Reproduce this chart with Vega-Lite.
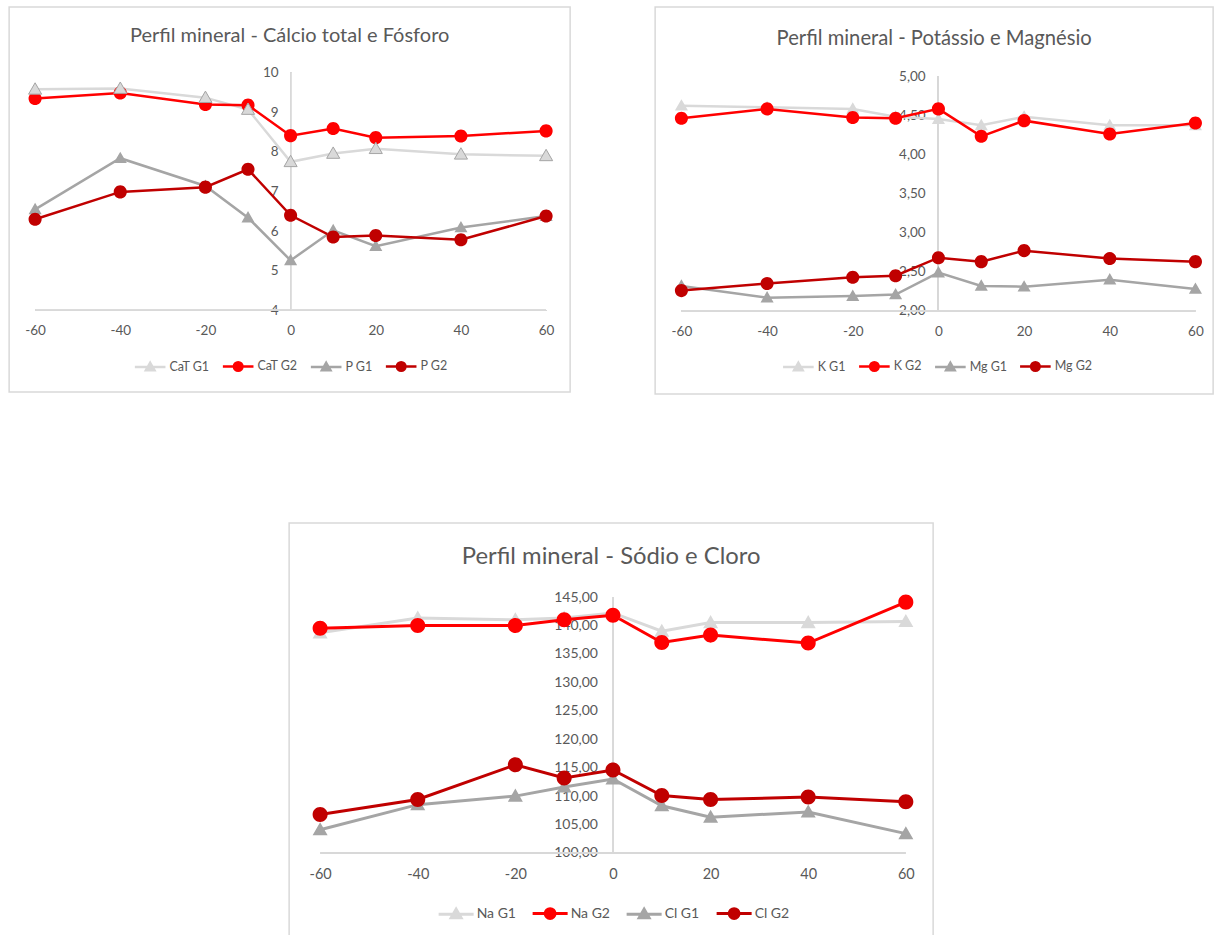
{
  "$schema": "https://vega.github.io/schema/vega-lite/v6.json",
  "background": "white",
  "padding": {"left": 8, "top": 6, "right": 0, "bottom": 0},
  "config": {
    "font": "Lato",
    "locale": {"number": {"decimal": ",", "thousands": ".", "grouping": [3], "currency": ["R$ ", ""], "minus": "-"}},
    "view": {"stroke": "#d9d9d9", "strokeWidth": 1.5},
    "axis": {"domain": false, "ticks": false, "tickSize": 0, "grid": false, "labelColor": "#595959", "labelFont": "Lato", "labelFontSize": 13.5, "title": null, "labelFlush": false, "labelOverlap": false},
    "title": {"font": "Lato", "fontWeight": "normal", "color": "#595959", "anchor": "middle"},
    "legend": {"title": null, "direction": "horizontal", "labelFont": "Lato", "labelColor": "#595959", "labelFontSize": 12.5, "symbolSize": 81, "labelOffset": 13, "columnPadding": 7, "gridAlign": "each", "padding": 0}
  },
  "resolve": {
    "scale": {"color": "independent", "stroke": "independent", "shape": "independent"},
    "legend": {"color": "independent", "stroke": "independent", "shape": "independent"}
  },
  "vconcat": [
    {
      "spacing": 83,
      "resolve": {
        "scale": {"color": "independent", "stroke": "independent", "shape": "independent"},
        "legend": {"color": "independent", "stroke": "independent", "shape": "independent"}
      },
      "hconcat": [
        {
          "width": 561,
          "height": 385,
          "title": {"text": "Perfil mineral - Cálcio total e Fósforo", "fontSize": 20, "offset": -39},
          "data": {"values": [
            {"serie": "CaT G1", "tempo": -60, "valor": 9.58}, {"serie": "CaT G1", "tempo": -40, "valor": 9.60}, {"serie": "CaT G1", "tempo": -20, "valor": 9.37}, {"serie": "CaT G1", "tempo": -10, "valor": 9.07}, {"serie": "CaT G1", "tempo": 0, "valor": 7.75}, {"serie": "CaT G1", "tempo": 10, "valor": 7.96}, {"serie": "CaT G1", "tempo": 20, "valor": 8.08}, {"serie": "CaT G1", "tempo": 40, "valor": 7.94}, {"serie": "CaT G1", "tempo": 60, "valor": 7.90},
            {"serie": "CaT G2", "tempo": -60, "valor": 9.35}, {"serie": "CaT G2", "tempo": -40, "valor": 9.49}, {"serie": "CaT G2", "tempo": -20, "valor": 9.20}, {"serie": "CaT G2", "tempo": -10, "valor": 9.18}, {"serie": "CaT G2", "tempo": 0, "valor": 8.41}, {"serie": "CaT G2", "tempo": 10, "valor": 8.59}, {"serie": "CaT G2", "tempo": 20, "valor": 8.36}, {"serie": "CaT G2", "tempo": 40, "valor": 8.40}, {"serie": "CaT G2", "tempo": 60, "valor": 8.53},
            {"serie": "P G1", "tempo": -60, "valor": 6.55}, {"serie": "P G1", "tempo": -40, "valor": 7.84}, {"serie": "P G1", "tempo": -20, "valor": 7.14}, {"serie": "P G1", "tempo": -10, "valor": 6.34}, {"serie": "P G1", "tempo": 0, "valor": 5.26}, {"serie": "P G1", "tempo": 10, "valor": 6.02}, {"serie": "P G1", "tempo": 20, "valor": 5.62}, {"serie": "P G1", "tempo": 40, "valor": 6.09}, {"serie": "P G1", "tempo": 60, "valor": 6.38},
            {"serie": "P G2", "tempo": -60, "valor": 6.30}, {"serie": "P G2", "tempo": -40, "valor": 6.99}, {"serie": "P G2", "tempo": -20, "valor": 7.11}, {"serie": "P G2", "tempo": -10, "valor": 7.56}, {"serie": "P G2", "tempo": 0, "valor": 6.40}, {"serie": "P G2", "tempo": 10, "valor": 5.85}, {"serie": "P G2", "tempo": 20, "valor": 5.89}, {"serie": "P G2", "tempo": 40, "valor": 5.78}, {"serie": "P G2", "tempo": 60, "valor": 6.38}
          ]},
          "encoding": {
            "x": {"field": "tempo", "type": "quantitative", "scale": {"domain": [-66.1, 65.64], "nice": false, "zero": false}, "axis": {"values": [-60, -40, -20, 0, 20, 40, 60], "offset": -81.7, "labelPadding": 13}},
            "y": {"field": "valor", "type": "quantitative", "scale": {"domain": [1.937, 11.659], "nice": false, "zero": false}, "axis": {"values": [4, 5, 6, 7, 8, 9, 10], "offset": -282, "labelPadding": 13, "format": "d"}}
          },
          "layer": [
            {"mark": {"type": "rule", "color": "#d9d9d9", "strokeWidth": 1}, "encoding": {"x": {"datum": -60, "type": "quantitative"}, "x2": {"datum": 60}, "y": {"datum": 4, "type": "quantitative"}}},
            {"mark": {"type": "rule", "color": "#d9d9d9", "strokeWidth": 1}, "encoding": {"x": {"datum": 0, "type": "quantitative"}, "y": {"datum": 4, "type": "quantitative"}, "y2": {"datum": 10}}},
            {"mark": {"type": "line", "strokeWidth": 2.5}, "encoding": {"color": {"field": "serie", "type": "nominal", "scale": {"domain": ["CaT G1", "CaT G2", "P G1", "P G2"], "range": ["#d9d9d9", "#ff0000", "#a5a5a5", "#c00000"]}, "legend": {"orient": "none", "legendX": 134.8, "legendY": 353, "encode": {"symbols": {"update": {"strokeWidth": {"value": 2.5}}}}}}}},
            {"mark": {"type": "point", "filled": true, "strokeWidth": 0, "size": 190, "opacity": 1, "clip": true},
             "encoding": {
               "color": {"field": "serie", "type": "nominal", "scale": {"domain": ["CaT G1", "CaT G2", "P G1", "P G2"], "range": ["#d9d9d9", "#ff0000", "#a5a5a5", "#c00000"]}, "legend": {"orient": "none", "legendX": 134.8, "legendY": 353, "encode": {"symbols": {"update": {"strokeWidth": {"value": 2.5}}}}}},
               "stroke": {"field": "serie", "type": "nominal", "scale": {"domain": ["CaT G1", "CaT G2", "P G1", "P G2"], "range": ["#d9d9d9", "#ff0000", "#a5a5a5", "#c00000"]}, "legend": {"orient": "none", "legendX": 134.8, "legendY": 353, "encode": {"symbols": {"update": {"strokeWidth": {"value": 2.5}}}}}},
               "shape": {"field": "serie", "type": "nominal", "scale": {"domain": ["CaT G1", "CaT G2", "P G1", "P G2"], "range": ["M-3.4,0L3.4,0M0,-0.95L0.95,0.7L-0.95,0.7Z", "M-3.4,0L3.4,0M0.95,0A0.95,0.95,0,1,1,-0.95,0A0.95,0.95,0,1,1,0.95,0Z", "M-3.4,0L3.4,0M0,-0.95L0.95,0.7L-0.95,0.7Z", "M-3.4,0L3.4,0M0.95,0A0.95,0.95,0,1,1,-0.95,0A0.95,0.95,0,1,1,0.95,0Z"]}, "legend": {"orient": "none", "legendX": 134.8, "legendY": 353, "encode": {"symbols": {"update": {"strokeWidth": {"value": 2.5}}}}}}
             }},
            {"transform": [{"filter": "datum.serie === 'CaT G1'"}], "mark": {"type": "point", "filled": true, "shape": "M0,-0.95L0.95,0.7L-0.95,0.7Z", "size": 190, "fill": "#d9d9d9", "stroke": "#a6a6a6", "strokeWidth": 1, "opacity": 1}}
          ]
        },
        {
          "width": 558,
          "height": 387,
          "title": {"text": "Perfil mineral - Potássio e Magnésio", "fontSize": 20.2, "offset": -42},
          "data": {"values": [
            {"serie": "K G1", "tempo": -60, "valor": 4.62}, {"serie": "K G1", "tempo": -40, "valor": 4.60}, {"serie": "K G1", "tempo": -20, "valor": 4.58}, {"serie": "K G1", "tempo": -10, "valor": 4.48}, {"serie": "K G1", "tempo": 0, "valor": 4.45}, {"serie": "K G1", "tempo": 10, "valor": 4.37}, {"serie": "K G1", "tempo": 20, "valor": 4.48}, {"serie": "K G1", "tempo": 40, "valor": 4.37}, {"serie": "K G1", "tempo": 60, "valor": 4.37},
            {"serie": "K G2", "tempo": -60, "valor": 4.46}, {"serie": "K G2", "tempo": -40, "valor": 4.58}, {"serie": "K G2", "tempo": -20, "valor": 4.47}, {"serie": "K G2", "tempo": -10, "valor": 4.46}, {"serie": "K G2", "tempo": 0, "valor": 4.58}, {"serie": "K G2", "tempo": 10, "valor": 4.23}, {"serie": "K G2", "tempo": 20, "valor": 4.43}, {"serie": "K G2", "tempo": 40, "valor": 4.26}, {"serie": "K G2", "tempo": 60, "valor": 4.40},
            {"serie": "Mg G1", "tempo": -60, "valor": 2.32}, {"serie": "Mg G1", "tempo": -40, "valor": 2.17}, {"serie": "Mg G1", "tempo": -20, "valor": 2.19}, {"serie": "Mg G1", "tempo": -10, "valor": 2.21}, {"serie": "Mg G1", "tempo": 0, "valor": 2.49}, {"serie": "Mg G1", "tempo": 10, "valor": 2.32}, {"serie": "Mg G1", "tempo": 20, "valor": 2.31}, {"serie": "Mg G1", "tempo": 40, "valor": 2.40}, {"serie": "Mg G1", "tempo": 60, "valor": 2.28},
            {"serie": "Mg G2", "tempo": -60, "valor": 2.26}, {"serie": "Mg G2", "tempo": -40, "valor": 2.35}, {"serie": "Mg G2", "tempo": -20, "valor": 2.43}, {"serie": "Mg G2", "tempo": -10, "valor": 2.45}, {"serie": "Mg G2", "tempo": 0, "valor": 2.68}, {"serie": "Mg G2", "tempo": 10, "valor": 2.63}, {"serie": "Mg G2", "tempo": 20, "valor": 2.77}, {"serie": "Mg G2", "tempo": 40, "valor": 2.67}, {"serie": "Mg G2", "tempo": 60, "valor": 2.63}
          ]},
          "encoding": {
            "x": {"field": "tempo", "type": "quantitative", "scale": {"domain": [-66.14, 64.13], "nice": false, "zero": false}, "axis": {"values": [-60, -40, -20, 0, 20, 40, 60], "offset": -83, "labelPadding": 13}},
            "y": {"field": "valor", "type": "quantitative", "scale": {"domain": [0.94, 5.881], "nice": false, "zero": false}, "axis": {"values": [2, 2.5, 3, 3.5, 4, 4.5, 5], "offset": -283, "labelPadding": 13, "format": ".2f"}}
          },
          "layer": [
            {"mark": {"type": "rule", "color": "#d9d9d9", "strokeWidth": 1}, "encoding": {"x": {"datum": -60, "type": "quantitative"}, "x2": {"datum": 60}, "y": {"datum": 2, "type": "quantitative"}}},
            {"mark": {"type": "rule", "color": "#d9d9d9", "strokeWidth": 1}, "encoding": {"x": {"datum": 0, "type": "quantitative"}, "y": {"datum": 2, "type": "quantitative"}, "y2": {"datum": 5}}},
            {"mark": {"type": "line", "strokeWidth": 2.5}, "encoding": {"color": {"field": "serie", "type": "nominal", "scale": {"domain": ["K G1", "K G2", "Mg G1", "Mg G2"], "range": ["#d9d9d9", "#ff0000", "#a5a5a5", "#c00000"]}, "legend": {"orient": "none", "legendX": 137, "legendY": 353, "encode": {"symbols": {"update": {"strokeWidth": {"value": 2.5}}}}}}}},
            {"mark": {"type": "point", "filled": true, "strokeWidth": 0, "size": 190, "opacity": 1, "clip": true},
             "encoding": {
               "color": {"field": "serie", "type": "nominal", "scale": {"domain": ["K G1", "K G2", "Mg G1", "Mg G2"], "range": ["#d9d9d9", "#ff0000", "#a5a5a5", "#c00000"]}, "legend": {"orient": "none", "legendX": 137, "legendY": 353, "encode": {"symbols": {"update": {"strokeWidth": {"value": 2.5}}}}}},
               "stroke": {"field": "serie", "type": "nominal", "scale": {"domain": ["K G1", "K G2", "Mg G1", "Mg G2"], "range": ["#d9d9d9", "#ff0000", "#a5a5a5", "#c00000"]}, "legend": {"orient": "none", "legendX": 137, "legendY": 353, "encode": {"symbols": {"update": {"strokeWidth": {"value": 2.5}}}}}},
               "shape": {"field": "serie", "type": "nominal", "scale": {"domain": ["K G1", "K G2", "Mg G1", "Mg G2"], "range": ["M-3.4,0L3.4,0M0,-0.95L0.95,0.7L-0.95,0.7Z", "M-3.4,0L3.4,0M0.95,0A0.95,0.95,0,1,1,-0.95,0A0.95,0.95,0,1,1,0.95,0Z", "M-3.4,0L3.4,0M0,-0.95L0.95,0.7L-0.95,0.7Z", "M-3.4,0L3.4,0M0.95,0A0.95,0.95,0,1,1,-0.95,0A0.95,0.95,0,1,1,0.95,0Z"]}, "legend": {"orient": "none", "legendX": 137, "legendY": 353, "encode": {"symbols": {"update": {"strokeWidth": {"value": 2.5}}}}}}
             }}
          ]
        }
      ]
    },
    {
      "width": 644,
      "height": 425,
      "title": {"text": "Perfil mineral - Sódio e Cloro", "fontSize": 23.8, "offset": -46},
      "data": {"values": [
        {"serie": "Na G1", "tempo": -60, "valor": 138.7}, {"serie": "Na G1", "tempo": -40, "valor": 141.3}, {"serie": "Na G1", "tempo": -20, "valor": 141.0}, {"serie": "Na G1", "tempo": -10, "valor": 141.3}, {"serie": "Na G1", "tempo": 0, "valor": 142.2}, {"serie": "Na G1", "tempo": 10, "valor": 139.0}, {"serie": "Na G1", "tempo": 20, "valor": 140.5}, {"serie": "Na G1", "tempo": 40, "valor": 140.5}, {"serie": "Na G1", "tempo": 60, "valor": 140.7},
        {"serie": "Na G2", "tempo": -60, "valor": 139.5}, {"serie": "Na G2", "tempo": -40, "valor": 140.0}, {"serie": "Na G2", "tempo": -20, "valor": 140.0}, {"serie": "Na G2", "tempo": -10, "valor": 141.0}, {"serie": "Na G2", "tempo": 0, "valor": 141.8}, {"serie": "Na G2", "tempo": 10, "valor": 137.0}, {"serie": "Na G2", "tempo": 20, "valor": 138.3}, {"serie": "Na G2", "tempo": 40, "valor": 136.9}, {"serie": "Na G2", "tempo": 60, "valor": 144.1},
        {"serie": "Cl G1", "tempo": -60, "valor": 104.1}, {"serie": "Cl G1", "tempo": -40, "valor": 108.5}, {"serie": "Cl G1", "tempo": -20, "valor": 110.0}, {"serie": "Cl G1", "tempo": -10, "valor": 111.6}, {"serie": "Cl G1", "tempo": 0, "valor": 113.0}, {"serie": "Cl G1", "tempo": 10, "valor": 108.3}, {"serie": "Cl G1", "tempo": 20, "valor": 106.3}, {"serie": "Cl G1", "tempo": 40, "valor": 107.2}, {"serie": "Cl G1", "tempo": 60, "valor": 103.4},
        {"serie": "Cl G2", "tempo": -60, "valor": 106.75}, {"serie": "Cl G2", "tempo": -40, "valor": 109.4}, {"serie": "Cl G2", "tempo": -20, "valor": 115.5}, {"serie": "Cl G2", "tempo": -10, "valor": 113.2}, {"serie": "Cl G2", "tempo": 0, "valor": 114.6}, {"serie": "Cl G2", "tempo": 10, "valor": 110.1}, {"serie": "Cl G2", "tempo": 20, "valor": 109.4}, {"serie": "Cl G2", "tempo": 40, "valor": 109.85}, {"serie": "Cl G2", "tempo": 60, "valor": 109.0}
      ]},
      "encoding": {
        "x": {"field": "tempo", "type": "quantitative", "scale": {"domain": [-66.35, 65.59], "nice": false, "zero": false}, "axis": {"values": [-60, -40, -20, 0, 20, 40, 60], "offset": -95, "labelPadding": 14, "labelFontSize": 14.5}},
        "y": {"field": "valor", "type": "quantitative", "scale": {"domain": [83.3, 158.01], "nice": false, "zero": false}, "axis": {"values": [100, 105, 110, 115, 120, 125, 130, 135, 140, 145], "offset": -323.3, "labelPadding": 15, "format": ".2f", "labelFontSize": 14}}
      },
      "layer": [
        {"mark": {"type": "rule", "color": "#d9d9d9", "strokeWidth": 1}, "encoding": {"x": {"datum": -60, "type": "quantitative"}, "x2": {"datum": 60}, "y": {"datum": 100, "type": "quantitative"}}},
        {"mark": {"type": "rule", "color": "#d9d9d9", "strokeWidth": 1}, "encoding": {"x": {"datum": 0, "type": "quantitative"}, "y": {"datum": 100, "type": "quantitative"}, "y2": {"datum": 145}}},
        {"mark": {"type": "line", "strokeWidth": 3}, "encoding": {"color": {"field": "serie", "type": "nominal", "scale": {"domain": ["Na G1", "Na G2", "Cl G1", "Cl G2"], "range": ["#d9d9d9", "#ff0000", "#a5a5a5", "#c00000"]}, "legend": {"orient": "none", "legendX": 160, "legendY": 383.5, "labelFontSize": 14, "symbolSize": 106, "labelOffset": 13.5, "columnPadding": 10, "encode": {"symbols": {"update": {"strokeWidth": {"value": 3}}}}}}}},
        {"mark": {"type": "point", "filled": true, "strokeWidth": 0, "size": 250, "opacity": 1, "clip": true},
         "encoding": {
           "color": {"field": "serie", "type": "nominal", "scale": {"domain": ["Na G1", "Na G2", "Cl G1", "Cl G2"], "range": ["#d9d9d9", "#ff0000", "#a5a5a5", "#c00000"]}, "legend": {"orient": "none", "legendX": 160, "legendY": 383.5, "labelFontSize": 14, "symbolSize": 106, "labelOffset": 13.5, "columnPadding": 10, "encode": {"symbols": {"update": {"strokeWidth": {"value": 3}}}}}},
           "stroke": {"field": "serie", "type": "nominal", "scale": {"domain": ["Na G1", "Na G2", "Cl G1", "Cl G2"], "range": ["#d9d9d9", "#ff0000", "#a5a5a5", "#c00000"]}, "legend": {"orient": "none", "legendX": 160, "legendY": 383.5, "labelFontSize": 14, "symbolSize": 106, "labelOffset": 13.5, "columnPadding": 10, "encode": {"symbols": {"update": {"strokeWidth": {"value": 3}}}}}},
           "shape": {"field": "serie", "type": "nominal", "scale": {"domain": ["Na G1", "Na G2", "Cl G1", "Cl G2"], "range": ["M-3.4,0L3.4,0M0,-0.95L0.95,0.7L-0.95,0.7Z", "M-3.4,0L3.4,0M0.95,0A0.95,0.95,0,1,1,-0.95,0A0.95,0.95,0,1,1,0.95,0Z", "M-3.4,0L3.4,0M0,-0.95L0.95,0.7L-0.95,0.7Z", "M-3.4,0L3.4,0M0.95,0A0.95,0.95,0,1,1,-0.95,0A0.95,0.95,0,1,1,0.95,0Z"]}, "legend": {"orient": "none", "legendX": 160, "legendY": 383.5, "labelFontSize": 14, "symbolSize": 106, "labelOffset": 13.5, "columnPadding": 10, "encode": {"symbols": {"update": {"strokeWidth": {"value": 3}}}}}}
         }}
      ]
    }
  ],
  "spacing": 127,
  "center": true
}
